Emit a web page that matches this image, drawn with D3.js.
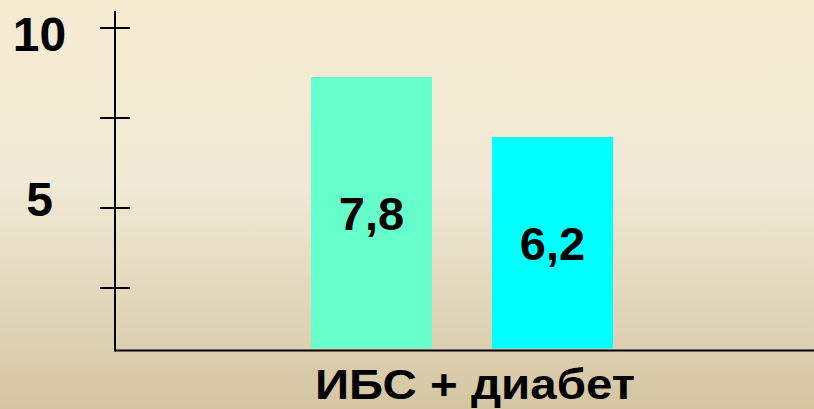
<!DOCTYPE html>
<html><head><meta charset="utf-8">
<script src="https://cdn.jsdelivr.net/npm/d3@7"></script>
<style>html,body{margin:0;padding:0;overflow:hidden}svg{display:block}</style>
</head><body>
<script>
const category = "ИБС + диабет";
const seriesNames = ["s1", "s2"];
const seriesValues = [7.8, 6.2];
const valueLabels = ["7,8", "6,2"];
const seriesColors = ["#66FFCC", "#00FFFF"];
const tickValues = [10, 7.5, 5, 2.5];
const tickLabelValues = [10, 5];
const tickLabels = ["10", "5"];

const W = 814, H = 409;
const svg = d3.select("body").append("svg").attr("width", W).attr("height", H);
const defs = svg.append("defs");
const g = defs.append("linearGradient").attr("id", "bg").attr("x1", 0).attr("y1", 0).attr("x2", 0).attr("y2", 1);
g.append("stop").attr("offset", "0").attr("stop-color", "#F6EBD1");
g.append("stop").attr("offset", "0.45").attr("stop-color", "#F0E9D5");
g.append("stop").attr("offset", "1").attr("stop-color", "#D5C6A2");
svg.append("rect").attr("width", W).attr("height", H).attr("fill", "url(#bg)");

const font = "'Liberation Sans', Arial, sans-serif";
const axisX = 115, baseY = 350.5;

// scales
const yBar = d3.scaleLinear().domain([0, 10]).range([369.5, -5.5]);
const yAxis = d3.scaleLinear().domain([0, 2.5, 5, 10]).range([baseY, 288, 208, 28]);
const yLabel = d3.scaleLinear().domain([5, 10]).range([216, 51]);
const x = d3.scaleBand().domain(seriesNames).range([311, 613]).paddingInner(0.3315).paddingOuter(0);

// bars
svg.selectAll("rect.bar").data(seriesValues).enter().append("rect")
  .attr("class", "bar")
  .attr("x", (d, i) => x(seriesNames[i]))
  .attr("width", x.bandwidth())
  .attr("y", d => yBar(d))
  .attr("height", d => 348.5 - yBar(d))
  .attr("fill", (d, i) => seriesColors[i]);

// value labels
svg.selectAll("text.val").data(seriesValues).enter().append("text")
  .attr("class", "val")
  .attr("x", (d, i) => x(seriesNames[i]) + x.bandwidth() / 2)
  .attr("y", d => (yBar(d) + 348.5) / 2 + 17)
  .attr("text-anchor", "middle")
  .attr("font-family", font).attr("font-weight", "bold").attr("font-size", 47)
  .attr("fill", "#000")
  .text((d, i) => valueLabels[i]);

// axes
svg.append("line").attr("x1", axisX).attr("x2", axisX).attr("y1", 11).attr("y2", baseY + 1)
  .attr("stroke", "#000").attr("stroke-width", 2);
svg.append("line").attr("x1", axisX).attr("x2", W).attr("y1", baseY).attr("y2", baseY)
  .attr("stroke", "#000").attr("stroke-width", 2);
svg.selectAll("line.tick").data(tickValues).enter().append("line")
  .attr("class", "tick")
  .attr("x1", 100).attr("x2", 130)
  .attr("y1", d => yAxis(d)).attr("y2", d => yAxis(d))
  .attr("stroke", "#000").attr("stroke-width", 2);
svg.selectAll("text.tl").data(tickLabelValues).enter().append("text")
  .attr("class", "tl")
  .attr("x", 39.5).attr("y", d => yLabel(d))
  .attr("text-anchor", "middle")
  .attr("font-family", font).attr("font-weight", "bold").attr("font-size", 48)
  .attr("fill", "#000")
  .text((d, i) => tickLabels[i]);

// category label
svg.append("text").attr("x", 315).attr("y", 399)
  .attr("text-anchor", "start")
  .attr("textLength", 320).attr("lengthAdjust", "spacingAndGlyphs")
  .attr("font-family", font).attr("font-weight", "bold").attr("font-size", 43)
  .attr("fill", "#000")
  .text(category);
</script>
</body></html>
